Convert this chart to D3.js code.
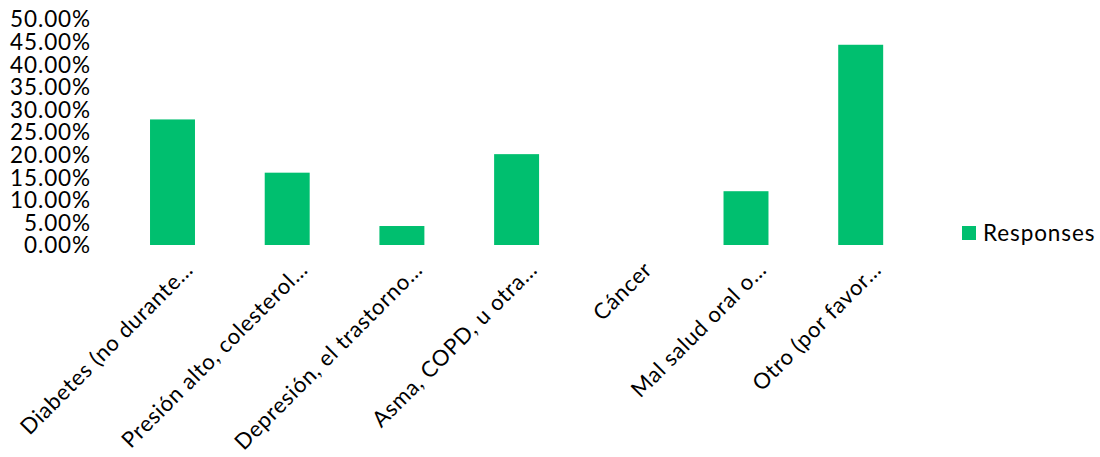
<!DOCTYPE html>
<html><head><meta charset="utf-8">
<script src="https://cdn.jsdelivr.net/npm/d3@7"></script>
<style>body{margin:0;background:#fff}svg{display:block}text{font-family:Lato,"Open Sans",sans-serif;fill:#000;letter-spacing:0.9px}</style>
</head><body><svg id="c" width="1100" height="457"></svg>
<script>
const categories = ["Diabetes (no durante…","Presión alto, colesterol…","Depresión, el trastorno…","Asma, COPD, u otra…","Cáncer","Mal salud oral o…","Otro (por favor…"];
const values = [0.2778, 0.16, 0.042, 0.201, 0, 0.119, 0.443];
const yTicks = [0,0.05,0.10,0.15,0.20,0.25,0.30,0.35,0.40,0.45,0.50];
const seriesName = "Responses";
const color = "#00BF6F";

const svg = d3.select("#c");
const x = d3.scaleBand().domain(categories).range([115.15, 918.05]).paddingInner(0.608).paddingOuter(0.304);
const y = d3.scaleLinear().domain([0,0.5]).range([245,19]);

const yAxis = d3.axisLeft(y).tickValues(yTicks).tickFormat(d=>(d*100).toFixed(2)+"%").tickSize(0).tickPadding(0);
const ga = svg.append("g").attr("transform","translate(91,0)").call(yAxis);
ga.select(".domain").remove();
ga.selectAll("text").attr("font-size",22.5).attr("font-family","Lato").attr("fill","#000").attr("dy","0.35em");

svg.append("g").selectAll("rect").data(values).join("rect")
  .attr("x",(d,i)=>x(categories[i])).attr("width",x.bandwidth())
  .attr("y",d=>y(d)).attr("height",d=>y(0)-y(d)).attr("fill",color);

const xAxis = d3.axisBottom(x).tickSize(0).tickPadding(0);
const gx = svg.append("g").attr("transform","translate(0,245)").call(xAxis);
gx.select(".domain").remove();
gx.selectAll("text").attr("font-size",22).attr("font-family","Lato").attr("fill","#000")
  .style("letter-spacing","0.7px")
  .attr("text-anchor","end").attr("dy",0).attr("y",0)
  .attr("transform","translate(22,26) rotate(-45)");

const lg = svg.append("g").attr("transform","translate(962,226)");
lg.append("rect").attr("width",14).attr("height",14).attr("fill",color);
lg.append("text").attr("x",21).attr("y",7).attr("dy","0.35em").attr("font-size",22.5).text(seriesName);
</script></body></html>
